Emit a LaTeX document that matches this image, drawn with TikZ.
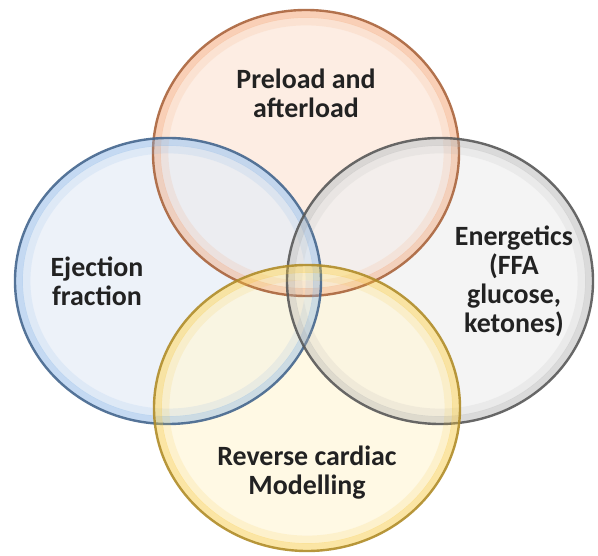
\documentclass[tikz,border=0pt]{standalone}
\usepackage{fontspec}
\setmainfont{Carlito}
\usepackage{tikz}
\usetikzlibrary{shapes.geometric,positioning}
\usepackage{xcolor}
\definecolor{vnbrown}{RGB}{170,100,60}
\definecolor{vnpeach}{RGB}{244,160,110}
\definecolor{vnpeachlt}{RGB}{252,230,216}
\definecolor{vnblue}{RGB}{68,102,142}
\definecolor{vnbluemid}{RGB}{130,178,230}
\definecolor{vnbluelt}{RGB}{230,237,247}
\definecolor{vngray}{RGB}{88,88,88}
\definecolor{vngraymid}{RGB}{175,175,175}
\definecolor{vngraylt}{RGB}{240,240,240}
\definecolor{vngold}{RGB}{176,140,40}
\definecolor{vnyellow}{RGB}{246,200,60}
\definecolor{vnyellowlt}{RGB}{255,246,218}
\definecolor{vntext}{RGB}{34,34,34}
\tikzstyle{ring} = [ellipse, minimum width=153bp, minimum height=143bp, inner sep=0pt, fill opacity=0.72]
\tikzstyle{glow} = [line width=3.6bp, draw opacity=0.38]
\tikzstyle{softglow} = [line width=4bp, draw opacity=0.14]
\tikzstyle{rim} = [line width=1.2bp, draw opacity=0.9]
\tikzstyle{ringtext} = [font=\bfseries\fontsize{14}{14.5}\selectfont, align=center, text=vntext]

\begin{document}
\begin{tikzpicture}[x=0.5bp, y=0.5bp]
\useasboundingbox (0,0) rectangle (598,556);

% Circles
\node[ring, fill=vnpeachlt] (pre) at (306,403) {};
\node[ring, fill=vnbluelt] (ef) at (168,275) {};
\node[ring, fill=vngraylt] (en) at (440,275) {};
\node[ring, fill=vnyellowlt] (rev) at (307,148) {};

% Glow inside the rims, then outlines on top
\foreach \n/\g/\c in {pre/vnpeach/vnbrown, ef/vnbluemid/vnblue, en/vngraymid/vngray, rev/vnyellow/vngold} {
  \draw[softglow, \g] (\n.center) ellipse [x radius=70.8bp, y radius=65.8bp];
  \draw[glow, \g] (\n.center) ellipse [x radius=74.4bp, y radius=69.4bp];
  \draw[rim, \c] (\n.center) ellipse [x radius=76.5bp, y radius=71.5bp];
}

% Texts
\node[ringtext] (tpre) at ([yshift=30bp]pre.center) {Preload and\\afterload};
\node[ringtext] (tef) at ([xshift=-35.5bp]ef.center) {Ejection\\fraction};
\node[ringtext] (ten) at ([xshift=37bp]en.center) {Energetics\\(FFA\\glucose,\\ketones)};
\node[ringtext] (trev) at ([yshift=-32.5bp]rev.center) {Reverse cardiac\\Modelling};
\end{tikzpicture}
\end{document}
